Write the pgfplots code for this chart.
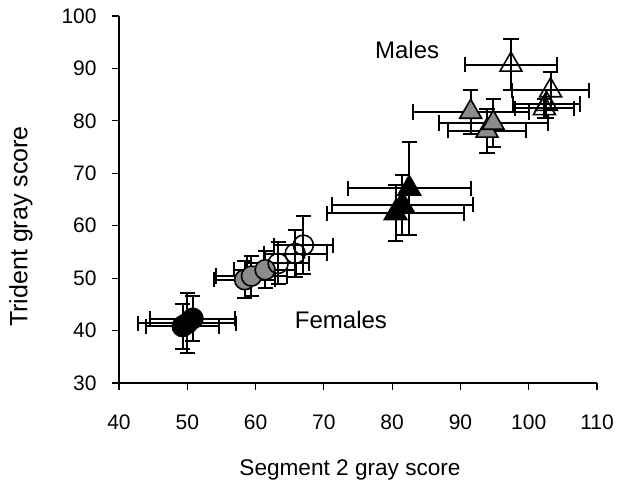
\documentclass[border=0pt]{standalone}
\usepackage{pgfplots}
\pgfplotsset{compat=1.18}
\usepackage{pgfplotstable}
\usepackage{fontspec}
\setmainfont{Liberation Sans}

% x y ex ey
\pgfplotstableread{
x y ex ey
49.3 40.8 5.3 4.3
50.0 41.4 7.2 5.7
50.8 42.3 6.2 4.2
}\femblack
\pgfplotstableread{
x y ex ey
58.4 49.7 4.5 3.5
59.4 50.4 5.2 3.9
61.4 51.6 4.5 3.5
}\femgray
\pgfplotstableread{
x y ex ey
63.3 52.8 4.5 4.0
65.8 54.7 4.6 4.5
67.0 56.3 4.3 5.5
}\femopen
\pgfplotstableread{
x y ex ey
80.5 62.4 10.0 5.3
81.5 64.0 10.3 5.7
82.5 67.1 9.0 8.9
}\malblack
\pgfplotstableread{
x y ex ey
91.5 81.7 8.5 4.2
93.9 78.1 5.7 4.2
94.8 79.6 8.0 4.5
}\malgray
\pgfplotstableread{
x y ex ey
97.4 90.7 6.7 4.9
103.2 85.8 5.6 3.6
102.6 83.2 4.9 2.6
102.3 82.4 4.3 1.8
}\malopen

\pgfplotsset{
    errs/.style={
        only marks, line width=1pt,
        error bars/x dir=both, error bars/x explicit,
        error bars/y dir=both, error bars/y explicit,
        error bars/error bar style={line width=1pt, black},
        error bars/error mark options={rotate=90, mark size=3.8pt, line width=1pt, black},
    },
}

\begin{document}
\fontsize{10.5}{12.5}\selectfont
\begin{tikzpicture}
\begin{axis}[
    scale only axis,
    width=239pt, height=183.5pt,
    xmin=40, xmax=110, ymin=30, ymax=100,
    xtick distance=10, ytick distance=10,
    axis lines*=left,
    tick align=outside,
    major tick length=3.5pt,
    axis line style={line width=0.6pt},
    every tick/.style={black, line width=0.6pt},
    /pgf/number format/assume math mode=true,
    tick label style={font=\fontsize{10.5}{12}\selectfont},
    xticklabel style={yshift=-8.5pt},
    yticklabel style={xshift=-4pt},
    xlabel={Segment 2 gray score},
    ylabel={Trident gray score},
    xlabel style={at={(axis description cs:0.5,0)}, anchor=center,
        yshift=-43.5pt, xshift=-4pt, font=\fontsize{11.3}{13}\selectfont},
    ylabel style={at={(axis description cs:0,0.5)}, anchor=center,
        yshift=49pt, xshift=-13.5pt, font=\fontsize{12.5}{14}\selectfont},
    clip=false,
]
\addplot[errs, black, mark=*, mark size=5pt, mark options={fill=black, draw=black}]
    table[x=x, y=y, x error=ex, y error=ey] {\femblack};
\addplot[errs, black, mark=*, mark size=5pt, mark options={fill=black!45, draw=black, line width=0.8pt}]
    table[x=x, y=y, x error=ex, y error=ey] {\femgray};
\addplot[errs, black, mark=o, mark size=5pt, mark options={draw=black, line width=0.8pt}]
    table[x=x, y=y, x error=ex, y error=ey] {\femopen};
\addplot[errs, black, mark=triangle*, mark size=6.3pt, mark options={fill=black, draw=black}]
    table[x=x, y=y, x error=ex, y error=ey] {\malblack};
\addplot[errs, black, mark=triangle*, mark size=6.3pt, mark options={fill=black!45, draw=black, line width=0.8pt}]
    table[x=x, y=y, x error=ex, y error=ey] {\malgray};
\addplot[errs, black, mark=triangle, mark size=6.3pt, mark options={draw=black, line width=0.8pt}]
    table[x=x, y=y, x error=ex, y error=ey] {\malopen};
\node[font=\fontsize{12}{14}\selectfont] at (axis cs:82.2,93.5) {Males};
\node[font=\fontsize{12}{14}\selectfont] at (axis cs:72.5,42.0) {Females};
\end{axis}
\path ([xshift=-59.5pt,yshift=-51pt]current axis.south west)
    rectangle ([xshift=22pt,yshift=8pt]current axis.north east);
\end{tikzpicture}
\end{document}
